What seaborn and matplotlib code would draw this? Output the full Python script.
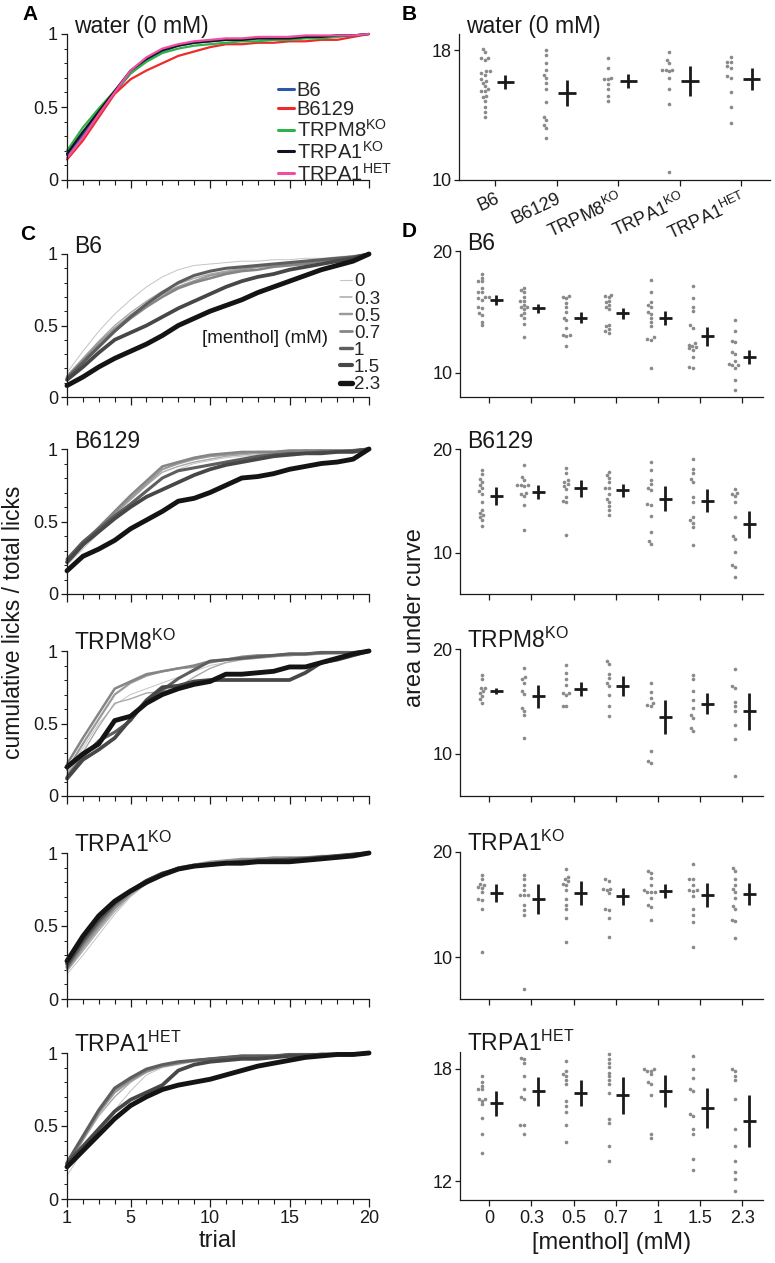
import matplotlib
matplotlib.use("Agg")
import matplotlib.pyplot as plt
import seaborn as sns
import pandas as pd
from matplotlib.lines import Line2D
from matplotlib.ticker import FixedLocator, MultipleLocator

sns.set_theme(style="ticks")
plt.rcParams["font.family"] = ["Liberation Sans", "DejaVu Sans"]
plt.rcParams["mathtext.fontset"] = "custom"
plt.rcParams["mathtext.rm"] = "Liberation Sans"
plt.rcParams["mathtext.it"] = "Liberation Sans:italic"
plt.rcParams["mathtext.bf"] = "Liberation Sans:bold"

# ---------------- data ----------------
trials = list(range(1, 21))
genotypes = ["B6", "B6129", "TRPM8KO", "TRPA1KO", "TRPA1HET"]
geno_labels = ["B6", "B6129", r"TRPM8$^{\mathrm{KO}}$", r"TRPA1$^{\mathrm{KO}}$", r"TRPA1$^{\mathrm{HET}}$"]
geno_colors = ["#2f57a8", "#ee2a2a", "#2fb24a", "#121220", "#ee4fa0"]
menthol = ["0", "0.3", "0.5", "0.7", "1", "1.5", "2.3"]

# panel A: water, cumulative licks fraction per trial
water_b6 = [0.17, 0.31, 0.45, 0.60, 0.73, 0.82, 0.88, 0.92, 0.94, 0.95, 0.96, 0.96, 0.97, 0.97, 0.98, 0.98, 0.98, 0.99, 0.99, 1.00]
water_b6129 = [0.14, 0.27, 0.43, 0.59, 0.69, 0.75, 0.80, 0.85, 0.88, 0.91, 0.93, 0.93, 0.94, 0.94, 0.95, 0.95, 0.96, 0.96, 0.98, 1.00]
water_trpm8ko = [0.20, 0.36, 0.49, 0.61, 0.73, 0.81, 0.87, 0.90, 0.92, 0.93, 0.94, 0.95, 0.95, 0.96, 0.96, 0.97, 0.97, 0.98, 0.99, 1.00]
water_trpa1ko = [0.18, 0.33, 0.47, 0.61, 0.75, 0.83, 0.89, 0.92, 0.94, 0.95, 0.96, 0.96, 0.97, 0.97, 0.97, 0.98, 0.98, 0.99, 0.99, 1.00]
water_trpa1het = [0.15, 0.29, 0.45, 0.60, 0.75, 0.84, 0.90, 0.93, 0.95, 0.96, 0.97, 0.97, 0.98, 0.98, 0.98, 0.99, 0.99, 0.99, 0.99, 1.00]

# panel B: area under curve, water
water_auc_b6 = [18.1, 17.9, 17.5, 17.5, 17.4, 16.7, 16.7, 16.6, 16.5, 16.2, 16.1, 16.0, 15.8, 15.6, 15.5, 15.5, 15.2, 15.1, 14.9, 14.5, 14.2, 13.9]
water_auc_b6129 = [18.0, 17.7, 17.2, 16.8, 16.5, 16.3, 16.0, 15.6, 14.8, 13.9, 13.7, 13.4, 13.2, 12.6]
water_auc_trpm8ko = [17.5, 16.9, 16.3, 16.2, 16.2, 15.9, 15.6, 15.2, 14.9]
water_auc_trpa1ko = [17.9, 17.4, 17.2, 16.8, 16.8, 16.8, 16.7, 16.3, 15.6, 14.7, 10.5]
water_auc_trpa1het = [17.6, 17.3, 17.3, 17.0, 16.9, 16.4, 16.3, 15.4, 14.5, 13.5]
water_auc_mean = [16.05, 15.35, 16.1, 16.1, 16.2]
water_auc_err = [0.44, 0.8, 0.41, 0.95, 0.68]

# panel C: cumulative curves per menthol concentration (rows follow `menthol`)
curves_b6 = [
    [0.17, 0.32, 0.46, 0.58, 0.68, 0.77, 0.84, 0.89, 0.92, 0.93, 0.94, 0.95, 0.95, 0.96, 0.96, 0.97, 0.97, 0.98, 0.99, 1.00],
    [0.15, 0.27, 0.39, 0.50, 0.59, 0.67, 0.74, 0.79, 0.83, 0.86, 0.88, 0.90, 0.91, 0.92, 0.93, 0.95, 0.96, 0.97, 0.98, 1.00],
    [0.14, 0.26, 0.38, 0.48, 0.57, 0.65, 0.72, 0.77, 0.81, 0.85, 0.87, 0.89, 0.91, 0.92, 0.93, 0.94, 0.96, 0.97, 0.98, 1.00],
    [0.14, 0.25, 0.36, 0.46, 0.55, 0.63, 0.70, 0.76, 0.80, 0.83, 0.86, 0.88, 0.89, 0.91, 0.92, 0.93, 0.95, 0.96, 0.98, 1.00],
    [0.13, 0.24, 0.35, 0.46, 0.56, 0.65, 0.73, 0.80, 0.85, 0.88, 0.90, 0.91, 0.92, 0.93, 0.94, 0.95, 0.96, 0.97, 0.98, 1.00],
    [0.12, 0.21, 0.31, 0.40, 0.45, 0.50, 0.56, 0.62, 0.67, 0.72, 0.77, 0.81, 0.84, 0.86, 0.89, 0.91, 0.93, 0.95, 0.97, 1.00],
    [0.08, 0.14, 0.21, 0.27, 0.32, 0.37, 0.43, 0.50, 0.55, 0.60, 0.64, 0.68, 0.73, 0.77, 0.81, 0.85, 0.89, 0.92, 0.95, 1.00],
]
curves_b6129 = [
    [0.20, 0.31, 0.42, 0.53, 0.63, 0.72, 0.80, 0.86, 0.90, 0.92, 0.94, 0.95, 0.96, 0.97, 0.97, 0.98, 0.98, 0.99, 0.99, 1.00],
    [0.22, 0.33, 0.44, 0.55, 0.65, 0.75, 0.84, 0.88, 0.91, 0.93, 0.95, 0.96, 0.97, 0.97, 0.98, 0.98, 0.99, 0.99, 0.99, 1.00],
    [0.21, 0.33, 0.45, 0.56, 0.66, 0.76, 0.86, 0.90, 0.93, 0.95, 0.96, 0.97, 0.98, 0.98, 0.98, 0.99, 0.99, 0.99, 0.99, 1.00],
    [0.23, 0.35, 0.46, 0.57, 0.68, 0.78, 0.88, 0.91, 0.94, 0.96, 0.97, 0.98, 0.98, 0.98, 0.99, 0.99, 0.99, 0.99, 0.99, 1.00],
    [0.24, 0.36, 0.45, 0.54, 0.62, 0.71, 0.80, 0.85, 0.87, 0.89, 0.91, 0.93, 0.95, 0.96, 0.97, 0.97, 0.98, 0.98, 0.99, 1.00],
    [0.22, 0.34, 0.43, 0.52, 0.60, 0.67, 0.72, 0.77, 0.82, 0.86, 0.89, 0.91, 0.93, 0.95, 0.96, 0.97, 0.97, 0.98, 0.98, 1.00],
    [0.16, 0.26, 0.31, 0.37, 0.45, 0.51, 0.57, 0.64, 0.66, 0.70, 0.75, 0.80, 0.81, 0.83, 0.86, 0.88, 0.90, 0.91, 0.93, 1.00],
]
curves_trpm8ko = [
    [0.16, 0.33, 0.50, 0.63, 0.70, 0.74, 0.78, 0.82, 0.86, 0.90, 0.92, 0.94, 0.95, 0.96, 0.97, 0.97, 0.98, 0.98, 0.99, 1.00],
    [0.15, 0.30, 0.48, 0.64, 0.67, 0.71, 0.72, 0.75, 0.82, 0.88, 0.92, 0.94, 0.95, 0.96, 0.97, 0.97, 0.98, 0.98, 0.99, 1.00],
    [0.18, 0.36, 0.53, 0.70, 0.78, 0.83, 0.86, 0.88, 0.89, 0.92, 0.94, 0.95, 0.96, 0.97, 0.97, 0.98, 0.98, 0.99, 0.99, 1.00],
    [0.22, 0.40, 0.57, 0.74, 0.79, 0.84, 0.86, 0.88, 0.90, 0.93, 0.94, 0.96, 0.97, 0.97, 0.98, 0.98, 0.99, 0.99, 0.99, 1.00],
    [0.13, 0.27, 0.38, 0.44, 0.52, 0.66, 0.73, 0.81, 0.87, 0.93, 0.94, 0.95, 0.96, 0.97, 0.98, 0.98, 0.99, 0.99, 0.99, 1.00],
    [0.12, 0.25, 0.32, 0.40, 0.53, 0.66, 0.75, 0.76, 0.79, 0.80, 0.80, 0.80, 0.80, 0.80, 0.80, 0.85, 0.92, 0.94, 0.97, 1.00],
    [0.20, 0.29, 0.36, 0.52, 0.55, 0.64, 0.70, 0.74, 0.77, 0.79, 0.84, 0.84, 0.85, 0.86, 0.89, 0.89, 0.92, 0.95, 0.98, 1.00],
]
curves_trpa1ko = [
    [0.17, 0.30, 0.44, 0.58, 0.70, 0.79, 0.85, 0.89, 0.91, 0.93, 0.94, 0.95, 0.95, 0.96, 0.96, 0.97, 0.97, 0.98, 0.98, 1.00],
    [0.19, 0.33, 0.47, 0.60, 0.71, 0.79, 0.85, 0.89, 0.91, 0.93, 0.94, 0.95, 0.96, 0.96, 0.97, 0.97, 0.98, 0.98, 0.99, 1.00],
    [0.20, 0.35, 0.49, 0.62, 0.72, 0.80, 0.86, 0.90, 0.92, 0.94, 0.95, 0.96, 0.96, 0.97, 0.97, 0.97, 0.98, 0.98, 0.99, 1.00],
    [0.21, 0.37, 0.51, 0.63, 0.73, 0.81, 0.86, 0.90, 0.92, 0.93, 0.94, 0.95, 0.96, 0.96, 0.96, 0.97, 0.97, 0.98, 0.99, 1.00],
    [0.22, 0.39, 0.53, 0.65, 0.74, 0.81, 0.86, 0.89, 0.91, 0.92, 0.93, 0.94, 0.95, 0.95, 0.96, 0.96, 0.97, 0.98, 0.99, 1.00],
    [0.24, 0.41, 0.55, 0.66, 0.74, 0.81, 0.86, 0.89, 0.91, 0.92, 0.93, 0.94, 0.94, 0.95, 0.95, 0.96, 0.97, 0.98, 0.99, 1.00],
    [0.26, 0.43, 0.57, 0.67, 0.74, 0.80, 0.85, 0.89, 0.91, 0.92, 0.93, 0.93, 0.94, 0.94, 0.94, 0.95, 0.96, 0.97, 0.98, 1.00],
]
curves_trpa1het = [
    [0.16, 0.33, 0.48, 0.61, 0.74, 0.85, 0.90, 0.92, 0.94, 0.95, 0.96, 0.97, 0.97, 0.98, 0.98, 0.99, 0.99, 0.99, 0.99, 1.00],
    [0.20, 0.40, 0.57, 0.70, 0.80, 0.87, 0.91, 0.93, 0.94, 0.95, 0.96, 0.97, 0.97, 0.98, 0.98, 0.99, 0.99, 0.99, 0.99, 1.00],
    [0.23, 0.41, 0.59, 0.73, 0.81, 0.87, 0.91, 0.93, 0.95, 0.96, 0.97, 0.97, 0.98, 0.98, 0.99, 0.99, 0.99, 0.99, 0.99, 1.00],
    [0.24, 0.42, 0.60, 0.75, 0.82, 0.88, 0.91, 0.93, 0.95, 0.96, 0.97, 0.98, 0.98, 0.98, 0.99, 0.99, 0.99, 0.99, 0.99, 1.00],
    [0.25, 0.43, 0.61, 0.76, 0.83, 0.89, 0.92, 0.94, 0.95, 0.96, 0.97, 0.98, 0.98, 0.98, 0.99, 0.99, 0.99, 0.99, 0.99, 1.00],
    [0.24, 0.36, 0.48, 0.60, 0.68, 0.73, 0.78, 0.88, 0.92, 0.94, 0.95, 0.96, 0.96, 0.97, 0.98, 0.98, 0.99, 0.99, 0.99, 1.00],
    [0.22, 0.33, 0.44, 0.55, 0.64, 0.70, 0.75, 0.78, 0.80, 0.82, 0.85, 0.88, 0.91, 0.93, 0.95, 0.97, 0.98, 0.99, 0.99, 1.00],
]

# panel D: area under curve per mouse, per menthol concentration
auc_b6 = [
    [18.1, 17.8, 17.5, 17.5, 17.0, 16.6, 16.6, 16.2, 16.2, 16.1, 16.0, 15.4, 15.3, 14.9, 14.7, 14.2, 13.9],
    [17.0, 16.8, 16.6, 16.2, 15.9, 15.9, 15.6, 15.4, 15.4, 15.2, 14.9, 14.7, 14.5, 14.0, 12.9],
    [16.3, 16.2, 16.1, 15.7, 15.4, 15.0, 14.5, 14.3, 13.7, 13.1, 13.1, 13.0, 12.2],
    [16.4, 16.3, 16.2, 15.9, 15.8, 15.6, 15.4, 15.2, 13.9, 13.8, 13.6, 13.4, 13.3],
    [17.6, 16.6, 15.8, 15.6, 15.4, 15.0, 14.8, 14.5, 14.2, 13.8, 12.9, 12.8, 12.7, 10.4],
    [17.1, 16.1, 15.4, 15.1, 13.9, 13.7, 12.4, 12.3, 12.2, 12.1, 12.0, 11.9, 11.3, 10.5, 10.4],
    [14.3, 13.4, 12.6, 12.5, 11.7, 11.5, 11.0, 10.7, 10.6, 10.6, 10.4, 9.4, 8.6],
]
auc_b6_mean = [16.0, 15.3, 14.5, 14.9, 14.5, 13.0, 11.3]
auc_b6_err = [0.4, 0.38, 0.45, 0.45, 0.6, 0.78, 0.6]

auc_b6129 = [
    [18.0, 17.6, 17.1, 16.8, 16.5, 16.2, 15.9, 15.7, 14.9, 14.1, 13.8, 13.6, 13.4, 13.1, 12.6],
    [18.5, 17.3, 17.0, 16.5, 16.5, 16.5, 16.4, 15.8, 15.7, 15.5, 14.6, 12.2],
    [18.2, 17.7, 17.0, 16.8, 16.6, 16.4, 16.1, 15.4, 15.0, 14.9, 11.7],
    [17.8, 17.5, 17.2, 16.8, 16.2, 16.2, 15.7, 15.2, 14.9, 14.5, 14.1, 13.6],
    [18.7, 18.0, 17.0, 16.6, 16.2, 16.0, 14.7, 14.6, 13.5, 12.0, 11.1, 10.8],
    [19.0, 18.1, 17.7, 17.1, 16.8, 15.4, 14.9, 13.4, 13.1, 12.9, 12.5, 10.7],
    [16.1, 15.8, 15.7, 15.5, 14.9, 13.4, 11.6, 11.3, 10.1, 8.8, 8.6, 7.6],
]
auc_b6129_mean = [15.45, 15.85, 16.2, 16.0, 15.2, 15.0, 12.75]
auc_b6129_err = [0.85, 0.7, 0.8, 0.65, 1.2, 1.1, 1.3]

auc_trpm8ko = [
    [17.5, 17.1, 16.3, 16.3, 16.0, 15.8, 15.5, 15.2, 14.9],
    [18.2, 17.3, 17.1, 16.8, 16.0, 15.7, 14.4, 14.1, 13.7, 11.5],
    [18.5, 17.7, 17.1, 16.6, 15.8, 15.8, 15.6, 14.6, 14.6],
    [18.9, 18.6, 17.6, 17.2, 16.8, 16.5, 15.6, 14.6, 13.6],
    [16.8, 15.9, 15.3, 14.9, 14.7, 14.6, 10.3, 9.3, 9.1],
    [17.5, 17.1, 16.0, 15.1, 14.4, 13.7, 13.4, 12.5, 12.2],
    [18.1, 16.5, 16.3, 15.0, 14.6, 14.1, 12.8, 11.4, 7.9],
]
auc_trpm8ko_mean = [16.0, 15.5, 16.2, 16.45, 13.5, 14.8, 14.05]
auc_trpm8ko_err = [0.3, 1.1, 0.65, 0.95, 1.6, 1.0, 1.75]

auc_trpa1ko = [
    [17.8, 17.4, 17.0, 16.9, 16.7, 16.6, 16.2, 15.5, 15.4, 14.6, 10.5],
    [17.8, 17.4, 16.9, 16.4, 15.9, 15.9, 15.9, 15.0, 14.5, 14.0, 7.0],
    [18.4, 17.6, 17.4, 17.2, 17.0, 16.9, 16.4, 15.5, 15.0, 14.6, 13.7, 11.4],
    [17.4, 17.2, 16.5, 16.5, 16.4, 16.1, 14.6, 14.5, 13.7, 11.9],
    [18.2, 18.0, 17.5, 16.9, 16.4, 16.2, 16.2, 16.2, 15.6, 15.0, 14.8, 13.5],
    [18.9, 17.4, 17.4, 16.9, 16.4, 16.4, 16.3, 15.8, 14.6, 14.0, 13.3, 11.0],
    [18.5, 18.2, 17.4, 16.9, 16.5, 16.2, 15.6, 14.9, 14.6, 13.5, 13.4, 11.8],
]
auc_trpa1ko_mean = [16.1, 15.5, 16.1, 15.8, 16.3, 15.9, 16.0]
auc_trpa1ko_err = [0.9, 1.45, 1.1, 0.8, 0.65, 1.15, 1.05]

auc_trpa1het = [
    [17.6, 17.3, 17.1, 16.9, 16.9, 16.4, 16.4, 16.3, 16.1, 15.4, 14.5, 13.5],
    [18.6, 18.5, 18.3, 17.6, 16.9, 16.5, 16.4, 15.0, 15.0, 14.5],
    [18.4, 17.9, 17.7, 17.6, 17.4, 17.2, 16.3, 16.0, 15.7, 15.0, 14.1],
    [18.8, 18.5, 18.3, 18.1, 17.8, 17.6, 17.4, 17.2, 16.7, 15.3, 15.1, 13.9, 13.1],
    [18.0, 18.0, 17.9, 17.9, 17.7, 17.3, 17.2, 16.6, 14.5, 14.3],
    [18.7, 18.0, 17.5, 16.9, 16.8, 15.6, 15.5, 14.8, 14.5, 13.2, 12.6],
    [18.0, 17.9, 17.6, 17.4, 16.4, 14.8, 13.9, 13.1, 12.5, 12.1, 11.5],
]
auc_trpa1het_mean = [16.17, 16.8, 16.7, 16.58, 16.8, 15.9, 15.24]
auc_trpa1het_err = [0.67, 0.78, 0.7, 1.0, 0.86, 1.06, 1.39]

# ---------------- styling ----------------
conc_colors = dict(zip(menthol, ["#c4c4c4", "#a9a9a9", "#9a9a9a", "#858585", "#5e5e5e", "#474747", "#141414"]))
conc_widths = dict(zip(menthol, [0.7, 1.0, 1.6, 1.8, 2.2, 2.7, 3.5]))
DOT = "#8a8a8a"
INK = "#1a1a1a"
W, H = 775, 1263

fig = plt.figure(figsize=(W / 100, H / 100), dpi=100)


def add_axes(x0, x1, top, bottom):
    return fig.add_axes([x0 / W, 1 - bottom / H, (x1 - x0) / W, (bottom - top) / H])


def fig_text(x, y, s, **kw):
    fig.text(x / W, 1 - y / H, s, **kw)


def panel_title(ax, s):
    ax.text(0.022, 1.006, s, transform=ax.transAxes, fontsize=16.5, va="baseline", ha="left", color=INK)


def style_curve_ax(ax, show_xlabels):
    ax.set_xlim(1, 20)
    ax.set_ylim(0, 1)
    ax.xaxis.set_major_locator(FixedLocator([1, 5, 10, 15, 20]))
    ax.xaxis.set_minor_locator(MultipleLocator(1))
    ax.yaxis.set_major_locator(FixedLocator([0, 0.5, 1]))
    ax.yaxis.set_minor_locator(MultipleLocator(0.1))
    ax.set_yticklabels(["0", "0.5", "1"])
    ax.tick_params(axis="x", which="major", length=6, width=0.9, pad=2, labelsize=13, colors=INK)
    ax.tick_params(axis="x", which="minor", length=3.5, width=0.8, colors=INK)
    ax.tick_params(axis="y", which="major", length=4.5, width=0.9, pad=2, labelsize=13, colors=INK)
    ax.tick_params(axis="y", which="minor", length=2.2, width=0.7, colors=INK)
    if show_xlabels:
        ax.set_xticklabels(["1", "5", "10", "15", "20"])
    else:
        ax.set_xticklabels([])
    sns.despine(ax=ax)
    for sp in ax.spines.values():
        sp.set_linewidth(0.9)
        sp.set_color(INK)
    ax.set_xlabel("")
    ax.set_ylabel("")
    for ln in ax.lines:
        ln.set_clip_on(False)
    ax.grid(False)


def draw_dots(ax, groups, means, errs, dot_dx, cross_dx, cross_w, ylim, yticks):
    rows = [(i - dot_dx, v) for i, vals in enumerate(groups) for v in vals]
    df = pd.DataFrame(rows, columns=["pos", "auc"])
    sns.swarmplot(data=df, x="pos", y="auc", native_scale=True, orient="x",
                  size=2.6, color=DOT, linewidth=0, ax=ax)
    pos = [i + cross_dx for i in range(len(means))]
    ax.errorbar(pos, means, yerr=errs, xerr=cross_w, fmt="none", ecolor=INK,
                elinewidth=2.0, capsize=0)
    ax.set_ylim(*ylim)
    ax.set_yticks(yticks)
    ax.set_yticklabels([str(t) for t in yticks])
    ax.set_xticks(range(len(means)))
    ax.tick_params(axis="y", length=3.5, width=0.9, pad=2, labelsize=13, colors=INK)
    ax.tick_params(axis="x", length=4, width=0.9, pad=3, labelsize=13, colors=INK)
    sns.despine(ax=ax)
    for sp in ax.spines.values():
        sp.set_linewidth(0.9)
        sp.set_color(INK)
    ax.set_xlabel("")
    ax.set_ylabel("")
    ax.grid(False)


# ---------------- panel A ----------------
axA = add_axes(67, 369, 34, 180)
water_curves = [water_b6, water_b6129, water_trpm8ko, water_trpa1ko, water_trpa1het]
dfA = pd.DataFrame(
    [(t, v, g) for g, ys in zip(genotypes, water_curves) for t, v in zip(trials, ys)],
    columns=["trial", "frac", "genotype"],
)
sns.lineplot(data=dfA, x="trial", y="frac", hue="genotype", hue_order=genotypes,
             palette=dict(zip(genotypes, geno_colors)), linewidth=1.6, errorbar=None,
             legend=False, ax=axA)
style_curve_ax(axA, False)
panel_title(axA, "water (0 mM)")
handlesA = [Line2D([], [], color=c, lw=2.2) for c in geno_colors]
axA.legend(handlesA, geno_labels, loc="upper left", bbox_to_anchor=(0.70, 0.68),
           frameon=False, fontsize=14.5, handlelength=0.75, handletextpad=0.15,
           labelspacing=0.0, borderpad=0, borderaxespad=0)

# ---------------- panel B ----------------
axB = add_axes(459, 770, 34, 180)
water_auc = [water_auc_b6, water_auc_b6129, water_auc_trpm8ko, water_auc_trpa1ko, water_auc_trpa1het]
draw_dots(axB, water_auc, water_auc_mean, water_auc_err, 0.17, 0.17, 0.145, (10, 19), [10, 18])
axB.set_xlim(-0.585, 4.47)
axB.set_xticklabels(geno_labels, rotation=25, ha="right", rotation_mode="anchor")
panel_title(axB, "water (0 mM)")

# ---------------- panels C and D ----------------
c_rows = [(254, 397), (449, 594), (651, 796), (853, 999), (1053, 1199)]
d_rows = [(251, 397), (449, 594), (649, 796), (852, 999), (1052, 1200)]
all_curves = [curves_b6, curves_b6129, curves_trpm8ko, curves_trpa1ko, curves_trpa1het]
all_auc = [auc_b6, auc_b6129, auc_trpm8ko, auc_trpa1ko, auc_trpa1het]
all_mean = [auc_b6_mean, auc_b6129_mean, auc_trpm8ko_mean, auc_trpa1ko_mean, auc_trpa1het_mean]
all_err = [auc_b6_err, auc_b6129_err, auc_trpm8ko_err, auc_trpa1ko_err, auc_trpa1het_err]
d_ylims = [(8, 20), (6, 20), (6, 20), (6, 20), (11, 18.9)]
d_yticks = [[10, 20], [10, 20], [10, 20], [10, 20], [12, 18]]

for k in range(5):
    last = k == 4
    axC = add_axes(67, 369, *c_rows[k])
    dfC = pd.DataFrame(
        [(t, v, m) for m, ys in zip(menthol, all_curves[k]) for t, v in zip(trials, ys)],
        columns=["trial", "frac", "menthol"],
    )
    sns.lineplot(data=dfC, x="trial", y="frac", hue="menthol", size="menthol",
                 hue_order=menthol, size_order=menthol, palette=conc_colors,
                 sizes=conc_widths, errorbar=None, legend=False, ax=axC)
    style_curve_ax(axC, last)
    panel_title(axC, geno_labels[k])
    if k == 0:
        handlesC = [Line2D([], [], color=conc_colors[m], lw=conc_widths[m] * 1.1) for m in menthol]
        axC.legend(handlesC, menthol, loc="upper left", bbox_to_anchor=(0.905, 0.865),
                   frameon=False, fontsize=13.5, handlelength=0.6, handletextpad=0.12,
                   labelspacing=0.0, borderpad=0, borderaxespad=0)
        axC.text(0.865, 0.41, "[menthol] (mM)", transform=axC.transAxes, ha="right",
                 va="center", fontsize=13.5, color=INK)
    if last:
        axC.set_xlabel("trial", fontsize=17, color=INK, labelpad=2)

    axD = add_axes(460, 763, *d_rows[k])
    draw_dots(axD, all_auc[k], all_mean[k], all_err[k], 0.17, 0.17, 0.155, d_ylims[k], d_yticks[k])
    axD.set_xlim(-0.69, 6.49)
    if last:
        axD.set_xticklabels(menthol)
        axD.set_xlabel("[menthol] (mM)", fontsize=17, color=INK, labelpad=4)
    else:
        axD.set_xticklabels([])
    panel_title(axD, geno_labels[k])

# ---------------- figure labels ----------------
fig_text(14, 622, "cumulative licks / total licks", rotation=90, ha="center", va="center",
         fontsize=16.5, color=INK)
fig_text(415, 618, "area under curve", rotation=90, ha="center", va="center",
         fontsize=17, color=INK)
for letter, x, y in [("A", 22, 20), ("B", 402, 20), ("C", 20, 240), ("D", 402, 237)]:
    fig_text(x, y, letter, fontsize=15, fontweight="bold", va="baseline", color="black")

fig.savefig("out.png", dpi=100)
